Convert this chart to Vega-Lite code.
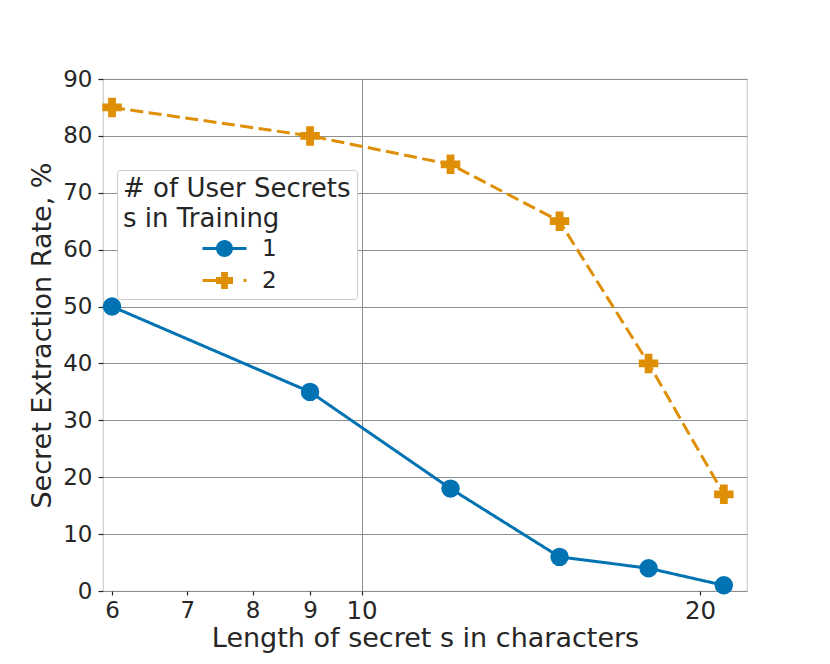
{
  "$schema": "https://vega.github.io/schema/vega-lite/v6.json",
  "width": 644,
  "height": 512,
  "autosize": {"type": "none"},
  "padding": {"left": 103, "top": 79, "right": 83, "bottom": 73},
  "background": "white",
  "config": {
    "font": "DejaVu Sans",
    "view": {"stroke": "#cccccc", "strokeWidth": 1.2},
    "axis": {"labelColor": "#262626", "titleColor": "#262626", "titleFontWeight": "normal", "domain": false, "tickColor": "#262626", "tickWidth": 1.2}
  },
  "data": {
    "values": [
      {"x": 6, "rate": 50, "series": "1"},
      {"x": 9, "rate": 35, "series": "1"},
      {"x": 12, "rate": 18, "series": "1"},
      {"x": 15, "rate": 6, "series": "1"},
      {"x": 18, "rate": 4, "series": "1"},
      {"x": 21, "rate": 1, "series": "1"},
      {"x": 6, "rate": 85, "series": "2"},
      {"x": 9, "rate": 80, "series": "2"},
      {"x": 12, "rate": 75, "series": "2"},
      {"x": 15, "rate": 65, "series": "2"},
      {"x": 18, "rate": 40, "series": "2"},
      {"x": 21, "rate": 17, "series": "2"}
    ]
  },
  "encoding": {
    "x": {
      "field": "x", "type": "quantitative",
      "scale": {"type": "log", "domain": [5.89, 22.02], "nice": false, "zero": false},
      "axis": {
        "values": [6, 7, 8, 9, 10, 20],
        "title": "Length of secret s in characters",
        "titleFontSize": 27, "titlePadding": 3,
        "labelFontSize": {"condition": {"test": "datum.value === 10 || datum.value === 20", "value": 24.5}, "value": 23},
        "labelPadding": 4,
        "tickSize": 4,
        "labelFlush": false,
        "grid": true,
        "gridColor": "#8f8f8f",
        "gridOpacity": {"condition": {"test": "datum.value === 10", "value": 1}, "value": 0},
        "format": "d"
      }
    },
    "y": {
      "field": "rate", "type": "quantitative",
      "scale": {"domain": [0, 90], "nice": false},
      "axis": {
        "values": [0, 10, 20, 30, 40, 50, 60, 70, 80, 90],
        "title": "Secret Extraction Rate, %",
        "titleFontSize": 27, "titlePadding": 6,
        "labelFontSize": 23, "labelPadding": 6,
        "tickSize": 5,
        "grid": true, "gridColor": "#8f8f8f", "gridWidth": 1
      }
    }
  },
  "layer": [
    {
      "mark": {"type": "line", "strokeWidth": 3},
      "encoding": {
        "color": {"field": "series", "type": "nominal", "scale": {"domain": ["1", "2"], "range": ["#0173b2", "#de8f05"]}, "legend": null},
        "strokeDash": {"field": "series", "type": "nominal", "scale": {"domain": ["1", "2"], "range": [[1, 0], [13, 5.5]]}, "legend": null}
      }
    },
    {
      "mark": {"type": "point", "filled": true, "opacity": 1},
      "encoding": {
        "color": {"field": "series", "type": "nominal", "scale": {"domain": ["1", "2"], "range": ["#0173b2", "#de8f05"]}, "legend": null},
        "shape": {"field": "series", "type": "nominal", "scale": {"domain": ["1", "2"], "range": ["circle", "cross"]}, "legend": null},
        "size": {"field": "series", "type": "nominal", "scale": {"domain": ["1", "2"], "range": [340, 380]}, "legend": null}
      }
    },
    {
      "mark": {"type": "point", "filled": true, "opacity": 0, "size": 400},
      "encoding": {
        "color": {
          "field": "series", "type": "nominal",
          "scale": {"domain": ["1", "2"], "range": ["#0173b2", "#de8f05"]},
          "legend": {"title": ["# of User Secrets", "s in Training"]}
        },
        "shape": {
          "field": "series", "type": "nominal",
          "scale": {"domain": ["1", "2"], "range": [
            "M-2.2,-0.15H2.2V0.15H-2.2Z M0.85,0 A0.85,0.85 0 1,1 -0.85,0 A0.85,0.85 0 1,1 0.85,0Z",
            "M-2.2,-0.15H0.8V0.15H-2.2Z M1.9,-0.15H2.2V0.15H1.9Z M-0.34,-0.85H0.34V-0.34H0.85V0.34H0.34V0.85H-0.34V0.34H-0.85V-0.34H-0.34Z"
          ]},
          "legend": {
            "title": ["# of User Secrets", "s in Training"],
            "orient": "none",
            "legendX": 14,
            "legendY": 91,
            "titleFontSize": 26,
            "titleFontWeight": "normal",
            "titleColor": "#262626",
            "titleLineHeight": 30,
            "titleLimit": 500,
            "labelFontSize": 23,
            "labelColor": "#262626",
            "labelOffset": 26,
            "symbolOffset": 90,
            "symbolSize": 400,
            "rowPadding": 8,
            "padding": 6,
            "fillColor": "white",
            "strokeColor": "#cccccc",
            "cornerRadius": 3,
            "symbolOpacity": 1,
            "symbolStrokeWidth": 0
          }
        }
      }
    }
  ],
  "resolve": {"scale": {"shape": "independent", "color": "independent", "size": "independent"}}
}
